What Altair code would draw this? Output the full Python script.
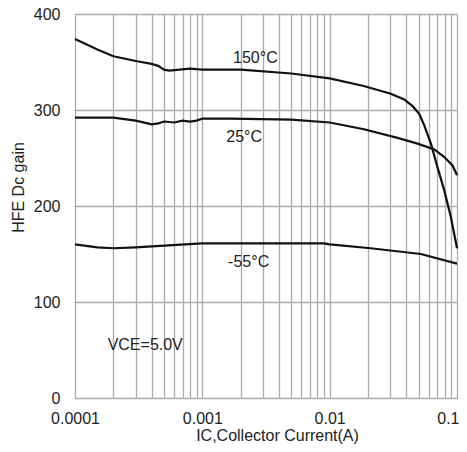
import altair as alt
import pandas as pd

# ---- data ----
x_150 = [0.0001, 0.00015, 0.0002, 0.0003, 0.0004, 0.00045, 0.0005, 0.00055, 0.0008, 0.001,
         0.002, 0.005, 0.01, 0.0185, 0.0302, 0.0385, 0.0448, 0.0505, 0.0553, 0.0624,
         0.0704, 0.0795, 0.0897, 0.1]
y_150 = [374, 363, 356, 351, 348, 346, 342, 341, 343, 342,
         342, 338, 333, 325, 317, 311, 304, 296, 284, 265,
         240, 216, 188, 156]

x_25 = [0.0001, 0.0002, 0.0003, 0.0004, 0.00045, 0.0005, 0.0006, 0.0007, 0.0008, 0.0009,
        0.001, 0.00166, 0.005, 0.01, 0.0186, 0.0341, 0.049, 0.0663, 0.0795, 0.0925, 0.1]
y_25 = [292, 292, 289, 285, 286, 288, 287, 289, 288, 289,
        291, 291, 290, 287, 280, 271, 265, 259, 251, 242, 232]

x_m55 = [0.0001, 0.00015, 0.0002, 0.0003, 0.0004, 0.001, 0.0041, 0.009, 0.01, 0.021,
         0.052, 0.1]
y_m55 = [160, 157, 156, 157, 158, 161, 161, 161, 160, 156,
         150, 140]

series_names = ["150°C", "25°C", "-55°C"]

label_text = ["150°C", "25°C", "-55°C", "VCE=5.0V"]
label_x = [0.00261, 0.00213, 0.00231, 0.000356]
label_y = [354, 272, 142, 55]

x_decades = [0.0001, 0.001, 0.01, 0.1]
x_tick_labels = ["0.0001", "0.001", "0.01", "0.1"]
y_ticks = [0, 100, 200, 300, 400]

x_title = "IC,Collector Current(A)"
y_title = "HFE Dc gain"

# ---- build tables ----
rows = []
for name, xs, ys in zip(series_names, [x_150, x_25, x_m55], [y_150, y_25, y_m55]):
    for i, (a, b) in enumerate(zip(xs, ys)):
        rows.append({"series": name, "ic": a, "hfe": b, "order": i})
df = pd.DataFrame(rows)
labels = pd.DataFrame({"text": label_text, "ic": label_x, "hfe": label_y})

x_grid = []
for d in x_decades[:-1]:
    for m in range(1, 10):
        x_grid.append(m * d)
x_grid.append(x_decades[-1])

label_expr = "''"
for v, t in zip(reversed(x_decades), reversed(x_tick_labels)):
    label_expr = f"datum.value == {v} ? '{t}' : ({label_expr})"

last_test = f"datum.value == {x_decades[-1]}"

FONT = "Liberation Sans"
TXT = "#222222"
FS = 16

x_enc = alt.X(
    "ic:Q",
    scale=alt.Scale(type="log", domain=[x_decades[0], x_decades[-1]], nice=False),
    axis=alt.Axis(
        values=x_grid, labelExpr=label_expr, grid=True, ticks=False, domain=False,
        labelOverlap=False, labelFlush=False, labelPadding=12,
        labelAlign={"condition": {"test": last_test, "value": "right"}, "value": "center"},
        labelOffset={"condition": {"test": last_test, "value": 2}, "value": 0},
        labelFontSize=FS, labelFont=FONT, labelColor=TXT,
        title=x_title, titleFontSize=FS, titleFont=FONT, titleColor=TXT,
        titleFontWeight="normal", titleX=202, titleY=37, titleBaseline="middle",
        titleAnchor="middle", titleAlign="center",
        gridColor="#ababab", gridWidth=1.3,
    ),
)
y_enc = alt.Y(
    "hfe:Q",
    scale=alt.Scale(domain=[0, 400], nice=False),
    axis=alt.Axis(
        values=y_ticks, grid=True, ticks=False, domain=False, labelPadding=15,
        labelFontSize=FS, labelFont=FONT, labelColor=TXT,
        title=y_title, titleFontSize=FS, titleFont=FONT, titleColor=TXT,
        titleFontWeight="normal", titleX=-57, titleY=173, titleBaseline="middle",
        titleAlign="center", titleAngle=270,
        gridColor="#ababab", gridWidth=1.3,
    ),
)

lines = alt.Chart(df).mark_line(color="#111111", strokeWidth=2.2).encode(
    x=x_enc, y=y_enc, detail="series:N", order="order:Q"
)

texts = alt.Chart(labels).mark_text(
    font=FONT, fontSize=FS, color=TXT, align="center", baseline="middle"
).encode(x="ic:Q", y="hfe:Q", text="text:N")

chart = alt.layer(lines, texts).properties(
    width=382, height=384,
    autosize=alt.AutoSizeParams(type="none"),
    padding={"left": 67, "top": 6, "right": 2, "bottom": 46},
).configure_view(stroke="#333333", strokeWidth=1.6).configure(background="#ffffff")

chart.save("out.html", embed_options={"renderer": "svg", "actions": False})
